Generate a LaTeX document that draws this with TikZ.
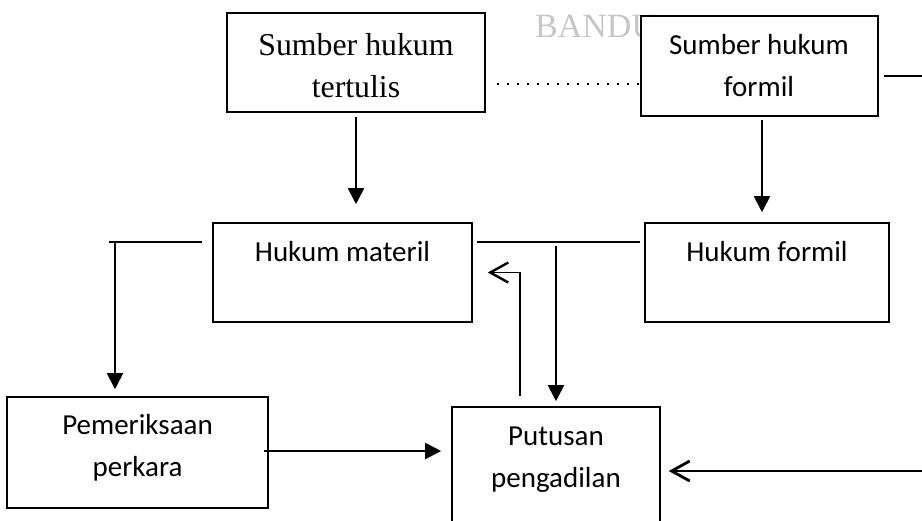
\documentclass[tikz,border=0pt]{standalone}
\usepackage{fontspec}
\setmainfont{Liberation Serif}
\newfontfamily\calibri{Carlito}
\usetikzlibrary{arrows.meta}

\begin{document}
\begin{tikzpicture}[x=1pt,y=-1pt,
      box/.style={draw,line width=1.6pt,fill=white,inner sep=0pt},
      txt/.style={font=\calibri\fontsize{29}{42}\selectfont,align=center,anchor=base},
      serif/.style={font=\fontsize{31.8}{42}\selectfont,align=center,anchor=base},
      arr/.style={-{Triangle[length=16pt,width=16pt]},line width=2pt},
      back/.style={-{Straight Barb[length=18pt,width=20pt,line width=1.2pt 1]},line width=1.6pt}]
      \useasboundingbox (0,0) rectangle (922,520);
      % faded stamp behind the top boxes
      \node[font=\fontsize{34}{40}\selectfont,text=gray!45,anchor=base west,inner sep=0pt] (stamp) at (535,37) {BANDU};
      \node[box,minimum width=258pt,minimum height=99pt] (tulis) at (356,62.5) {};
      \node[box,minimum width=237pt,minimum height=100pt] (sformil) at (759.5,66) {};
      \node[box,minimum width=259pt,minimum height=99pt] (materil) at (342.5,272.5) {};
      \node[box,minimum width=244pt,minimum height=99pt] (formil) at (767,272.5) {};
      \node[box,minimum width=261pt,minimum height=111pt] (periksa) at (137.5,452.5) {};
      \node[box,minimum width=208pt,minimum height=138pt] (putusan) at (556,476) {};
      % base of a two-line node sits on its last line
      \node[serif] (tulis-t) at (356,97) {Sumber hukum\\tertulis};
      \node[txt] (sformil-t) at (759,96) {Sumber hukum\\formil};
      \node[txt] (materil-t) at (342.5,261) {Hukum materil};
      \node[txt] (formil-t) at (767,261) {Hukum formil};
      \node[txt] (periksa-t) at (137.5,476) {Pemeriksaan\\perkara};
      \node[txt] (putusan-t) at (556,487) {Putusan\\pengadilan};
      \coordinate (rtop) at (922,76);
      \coordinate (rbot) at (922,471);
      \draw[arr,shorten <=4pt,shorten >=18pt] (tulis.south) -- (tulis.south |- materil.north);
      \draw[arr,shorten <=3pt,shorten >=10pt]
        ([xshift=2.5pt]sformil.south) -- ([xshift=2.5pt]sformil.south |- formil.north);
      \draw[line width=1.6pt,dash pattern=on 2pt off 8pt,shorten <=11pt]
        ([yshift=-21.5pt]tulis.east) -- ([yshift=-18pt]sformil.west);
      \draw[line width=1.6pt,shorten <=5pt] ([yshift=-10pt]sformil.east) -- (rtop);
      \draw[line width=1.6pt,shorten <=4pt,shorten >=4pt]
        ([yshift=30.5pt]materil.east) -- ([yshift=30.5pt]formil.west);
      \draw[arr,shorten <=24pt,shorten >=5pt] (putusan.north |- materil.north) -- (putusan.north);
      \draw[back,line width=1.2pt]
        ([xshift=-36pt,yshift=10pt]putusan.north) |- ([xshift=15pt]materil.east);
      \draw[line width=2pt] ([xshift=-10pt,yshift=30.5pt]materil.west) -- ++(-93,0);
      \draw[arr,shorten >=7pt]
        ([xshift=-10pt,yshift=30.5pt]materil.west) -| ([xshift=-22.5pt]periksa.north);
      \draw[arr,shorten <=-5pt,shorten >=10pt]
        ([yshift=1.5pt]periksa.east) -- ([yshift=25pt]putusan.west);
      \draw[back,shorten >=8pt] (rbot) -- ([yshift=5pt]putusan.east);
    \end{tikzpicture}
\end{document}
